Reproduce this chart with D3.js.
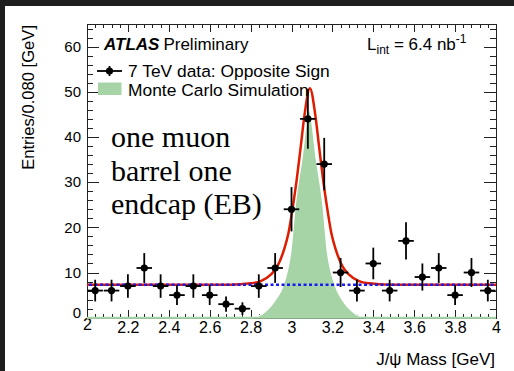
<!DOCTYPE html>
<html>
<head>
<meta charset="utf-8">
<script src="https://cdn.jsdelivr.net/npm/d3@7"></script>
<style>
  body { margin: 0; background: #fff; }
  svg { display: block; font-family: 'Liberation Sans', Arial, Helvetica, sans-serif; }
  .axis path, .axis line { stroke: #222; shape-rendering: crispEdges; }
  .axis text { font-size: 15px; fill: #000; font-family: 'Liberation Sans', Arial, sans-serif; }
  .xaxis text { font-size: 16px; }
</style>
</head>
<body>
<svg id="chart" width="514" height="371"></svg>
<script>
// data (bins are 0.080 GeV wide)
var binCenters = [2.04, 2.12, 2.20, 2.28, 2.36, 2.44, 2.52, 2.60, 2.68, 2.76, 2.84, 2.92, 3.00,
  3.08, 3.16, 3.24, 3.32, 3.40, 3.48, 3.56, 3.64, 3.72, 3.80, 3.88, 3.96]
var counts = [6, 6, 7, 11, 7, 5, 7, 5, 3, 2, 7, 11, 24, 44, 34, 10, 6, 12, 6, 17, 9, 11, 5, 10, 6]
var errors = [2.4, 2.4, 2.6, 3.3, 2.6, 2.2, 2.6, 2.2, 1.7, 1.4, 2.6, 3.3, 4.9, 6.6, 5.8, 3.2,
  2.4, 3.5, 2.4, 4.1, 3.0, 3.3, 2.2, 3.2, 2.4]
var binHalfWidth = 0.038

// Monte Carlo shape
var mcMass = [2.00, 2.80, 2.84, 2.88, 2.92, 2.96, 2.997, 3.018, 3.050, 3.086, 3.122, 3.154, 3.175,
  3.213, 3.25, 3.29, 3.33, 3.37, 4.00]
var mcEntries = [0, 0, 0.4, 1.7, 3.9, 7.3, 15, 25, 35, 46, 35, 25, 15, 7.3, 3.9, 1.7, 0.4, 0, 0]

// fit (signal + flat background)
var fitMass = [2.00, 2.70, 2.80, 2.85, 2.90, 2.93, 2.963, 2.985, 3.008, 3.025, 3.045, 3.064, 3.090,
  3.116, 3.135, 3.155, 3.172, 3.195, 3.217, 3.25, 3.28, 3.33, 3.38, 3.48, 4.00]
var fitEntries = [7.3, 7.3, 7.6, 8.1, 9.6, 11.3, 15, 18.7, 25, 30.4, 37.8, 45, 50.8,
  45, 37.8, 30.4, 25, 18.7, 15, 11.3, 9.6, 8.1, 7.6, 7.3, 7.3]
var background = 7.3

var xTicks = [2, 2.2, 2.4, 2.6, 2.8, 3, 3.2, 3.4, 3.6, 3.8, 4]
var yTicks = [0, 10, 20, 30, 40, 50, 60]

var svg = d3.select('#chart')

// dark border of the screenshot
svg.append('rect').attr('x', 0).attr('y', 0).attr('width', 514).attr('height', 6).attr('fill', '#1e1e1e')
svg.append('rect').attr('x', 0).attr('y', 0).attr('width', 5).attr('height', 371).attr('fill', '#1e1e1e')

var frameLeft = 87
var frameRight = 496
var frameTop = 24
var frameBottom = 317.7

var x = d3.scaleLinear().domain([2, 4]).range([frameLeft, frameRight])
var y = d3.scaleLinear().domain([0, 65]).range([frameBottom, frameTop])

var xMinor = d3.range(2, 4.001, 0.04)
var yMinor = d3.range(0, 65, 2)

// axes (ticks point inwards like ROOT)
svg.append('g').attr('class', 'axis').attr('transform', 'translate(0,' + frameBottom + ')')
  .call(d3.axisBottom(x).tickValues(xMinor).tickSize(-4).tickSizeOuter(0).tickFormat(''))
var xAxis = svg.append('g').attr('class', 'axis xaxis').attr('transform', 'translate(0,' + frameBottom + ')')
  .call(d3.axisBottom(x).tickValues(xTicks).tickSize(-8).tickSizeOuter(0).tickPadding(4)
    .tickFormat(function (d) { return String(+d.toFixed(1)) }))
svg.append('g').attr('class', 'axis').attr('transform', 'translate(0,' + frameTop + ')')
  .call(d3.axisTop(x).tickValues(xMinor).tickSize(-4).tickSizeOuter(0).tickFormat(''))
svg.append('g').attr('class', 'axis').attr('transform', 'translate(0,' + frameTop + ')')
  .call(d3.axisTop(x).tickValues(xTicks).tickSize(-8).tickSizeOuter(0).tickFormat(''))

svg.append('g').attr('class', 'axis').attr('transform', 'translate(' + frameLeft + ',0)')
  .call(d3.axisLeft(y).tickValues(yMinor).tickSize(-6).tickSizeOuter(0).tickFormat(''))
var yAxis = svg.append('g').attr('class', 'axis').attr('transform', 'translate(' + frameLeft + ',0)')
  .call(d3.axisLeft(y).tickValues(yTicks).tickSize(-12).tickSizeOuter(0).tickPadding(6))
svg.append('g').attr('class', 'axis').attr('transform', 'translate(' + frameRight + ',0)')
  .call(d3.axisRight(y).tickValues(yMinor).tickSize(-6).tickSizeOuter(0).tickFormat(''))
svg.append('g').attr('class', 'axis').attr('transform', 'translate(' + frameRight + ',0)')
  .call(d3.axisRight(y).tickValues(yTicks).tickSize(-12).tickSizeOuter(0).tickFormat(''))

// ROOT nudges the labels at the origin
yAxis.selectAll('.tick text').filter(function (d) { return d === 0 }).attr('dy', '0.0em')
xAxis.selectAll('.tick text').filter(function (d) { return d === 2 }).attr('dy', '0.5em')

// Monte Carlo
var mcPts = mcMass.map(function (m, i) { return [m, mcEntries[i]] })
svg.append('path')
  .datum(mcPts)
  .attr('fill', '#a6d4a6')
  .attr('d', d3.area().x(function (d) { return x(d[0]) }).y0(y(0)).y1(function (d) { return y(d[1]) })
    .curve(d3.curveMonotoneX))
svg.append('path')
  .datum(mcPts)
  .attr('fill', 'none')
  .attr('stroke', '#fff')
  .attr('stroke-width', 1.5)
  .attr('d', d3.line().x(function (d) { return x(d[0]) }).y(function (d) { return y(d[1]) })
    .curve(d3.curveMonotoneX))
svg.append('line')
  .attr('x1', x(2)).attr('x2', x(4)).attr('y1', frameBottom).attr('y2', frameBottom)
  .attr('stroke', '#a6d4a6').attr('stroke-width', 2)

// fit
var fitPts = fitMass.map(function (m, i) { return [m, fitEntries[i]] })
svg.append('path')
  .datum(fitPts)
  .attr('fill', 'none')
  .attr('stroke', '#dd1c00')
  .attr('stroke-width', 2.5)
  .attr('d', d3.line().x(function (d) { return x(d[0]) }).y(function (d) { return y(d[1]) })
    .curve(d3.curveMonotoneX))

svg.append('line')
  .attr('x1', x(2.01)).attr('x2', x(4)).attr('y1', y(background)).attr('y2', y(background))
  .attr('stroke', '#1a1aee')
  .attr('stroke-width', 2.5)
  .attr('stroke-dasharray', '3,2.5')

// data points
var pts = svg.append('g').selectAll('g')
  .data(binCenters)
  .join('g')
pts.append('line')
  .attr('x1', function (d) { return x(d - binHalfWidth) })
  .attr('x2', function (d) { return x(d + binHalfWidth) })
  .attr('y1', function (d, i) { return y(counts[i]) })
  .attr('y2', function (d, i) { return y(counts[i]) })
  .attr('stroke', '#000').attr('stroke-width', 1.8)
pts.append('line')
  .attr('x1', function (d) { return x(d) })
  .attr('x2', function (d) { return x(d) })
  .attr('y1', function (d, i) { return y(counts[i] - errors[i]) })
  .attr('y2', function (d, i) { return y(counts[i] + errors[i]) })
  .attr('stroke', '#000').attr('stroke-width', 1.8)
pts.append('circle')
  .attr('cx', function (d) { return x(d) })
  .attr('cy', function (d, i) { return y(counts[i]) })
  .attr('r', 3.6)
  .attr('fill', '#000')

// titles
svg.append('text')
  .attr('transform', 'translate(34,25) rotate(-90)')
  .attr('text-anchor', 'end')
  .attr('font-size', 16.6)
  .text('Entries/0.080 [GeV]')
svg.append('text')
  .attr('x', 495).attr('y', 365)
  .attr('text-anchor', 'end')
  .attr('font-size', 17)
  .text('J/\u03c8 Mass [GeV]')

var atlas = svg.append('text').attr('x', 104).attr('y', 50).attr('font-size', 17)
atlas.append('tspan').attr('font-weight', 'bold').attr('font-style', 'italic').text('ATLAS')
atlas.append('tspan').attr('dx', 4).text('Preliminary')

var lumi = svg.append('text').attr('x', 367).attr('y', 50).attr('font-size', 17)
lumi.append('tspan').text('L')
lumi.append('tspan').attr('font-size', 12).attr('dy', 4).text('int')
lumi.append('tspan').attr('dy', -4).text(' = 6.4 nb')
lumi.append('tspan').attr('font-size', 12).attr('dy', -7).text('-1')

// legend
svg.append('line').attr('x1', 97).attr('x2', 122).attr('y1', 71).attr('y2', 71)
  .attr('stroke', '#000').attr('stroke-width', 1.8)
svg.append('line').attr('x1', 109.5).attr('x2', 109.5).attr('y1', 66).attr('y2', 76)
  .attr('stroke', '#000').attr('stroke-width', 1.8)
svg.append('circle').attr('cx', 109.5).attr('cy', 71).attr('r', 3.6).attr('fill', '#000')
svg.append('text').attr('x', 128).attr('y', 77).attr('font-size', 17.4).text('7 TeV data: Opposite Sign')
svg.append('rect').attr('x', 98).attr('y', 82.5).attr('width', 23.5).attr('height', 12.5).attr('fill', '#a6d4a6')
svg.append('text').attr('x', 128).attr('y', 96).attr('font-size', 17.4).text('Monte Carlo Simulation')

// channel label
var note = ['one muon', 'barrel one', 'endcap (EB)']
svg.append('g').selectAll('text')
  .data(note)
  .join('text')
  .attr('x', 111)
  .attr('y', function (d, i) { return 147 + i * 33.5 })
  .attr('font-family', "'Liberation Serif', 'Times New Roman', serif")
  .attr('font-size', 30)
  .text(function (d) { return d })
</script>
</body>
</html>
